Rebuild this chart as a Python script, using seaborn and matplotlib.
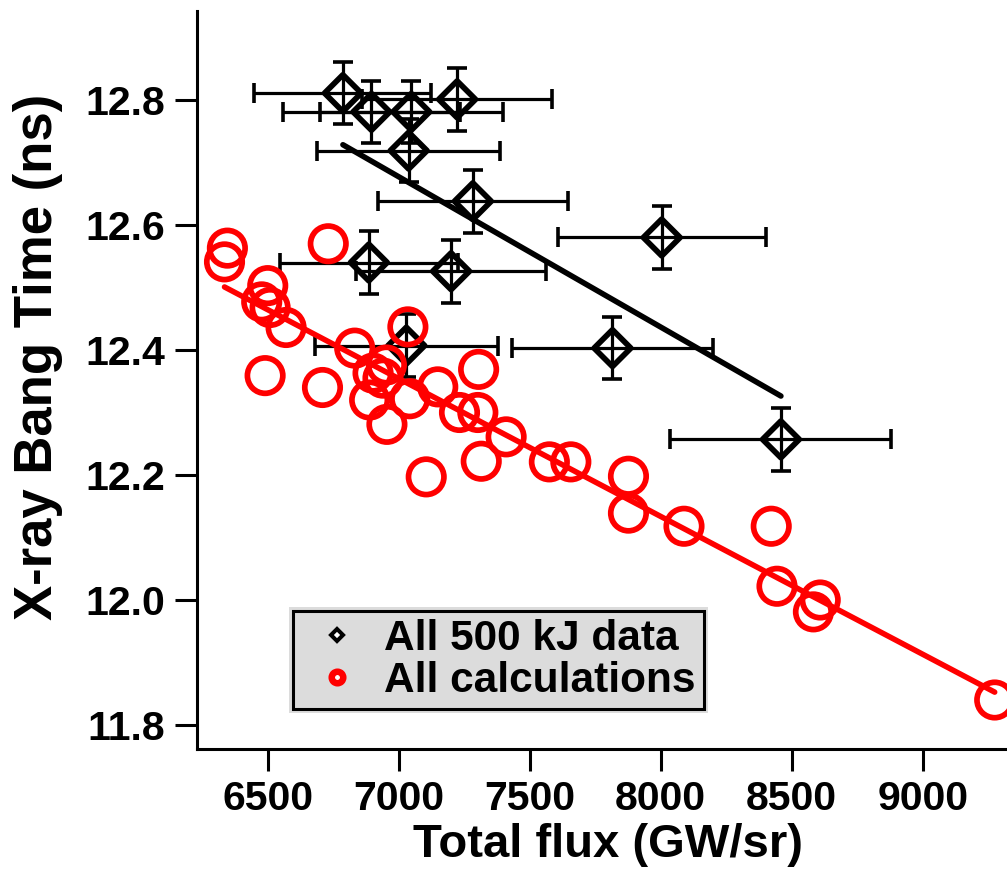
import numpy as np
import pandas as pd
import matplotlib
matplotlib.use("Agg")
import matplotlib.pyplot as plt
import matplotlib.transforms as mtransforms
from matplotlib.lines import Line2D
from matplotlib.patches import Rectangle
import seaborn as sns

# 500 kJ shots: measured total flux, x-ray bang time and their uncertainties
exp_flux = [6787, 6896, 7048, 7223, 7038, 7283, 6886, 7200, 7029, 7816, 8004, 8459]
exp_flux_err = [338, 337, 350, 363, 350, 363, 340, 363, 350, 385, 397, 422]
exp_bang = [12.811, 12.781, 12.781, 12.801, 12.719, 12.638, 12.540, 12.526,
            12.407, 12.403, 12.580, 12.257]
exp_bang_err = [0.05] * 12

# simulated shots
calc_flux = [6346, 6335, 6731, 6500, 6477, 6509, 6570, 7035, 6832, 6490,
             6709, 6902, 6953, 6940, 6889, 6955, 7042, 7149, 7305, 7232,
             7302, 7410, 7315, 7105, 7575, 7657, 7877, 7877, 8089, 8422,
             8444, 8609, 8583, 9275]
calc_bang = [12.563, 12.541, 12.570, 12.503, 12.477, 12.468, 12.436, 12.437,
             12.403, 12.359, 12.340, 12.363, 12.376, 12.355, 12.320, 12.281,
             12.322, 12.341, 12.369, 12.300, 12.300, 12.261, 12.222, 12.197,
             12.221, 12.221, 12.198, 12.139, 12.118, 12.118, 12.022, 12.000,
             11.981, 11.840]

legend_labels = ["All 500 kJ data", "All calculations"]
x_ticks = [6500, 7000, 7500, 8000, 8500, 9000]
y_ticks = [11.8, 12.0, 12.2, 12.4, 12.6, 12.8]
x_label = "Total flux (GW/sr)"
y_label = "X-ray Bang Time (ns)"

exp = pd.DataFrame({"flux": exp_flux, "bang": exp_bang})
calc = pd.DataFrame({"flux": calc_flux, "bang": calc_bang})

sns.set_theme(style="ticks")
plt.rcParams["font.family"] = ["Liberation Sans", "DejaVu Sans"]
plt.rcParams["font.weight"] = "bold"
plt.rcParams["text.color"] = "black"

W, H = 1007, 873
fig = plt.figure(figsize=(W / 100, H / 100), dpi=100)
fig.patch.set_facecolor("white")
ax = fig.add_axes([197 / W, (H - 749) / H, (W - 197) / W, (749 - 11) / H])
ax.set_facecolor("white")

RED = "#ff0000"
LW = 4.1

# measurements with error bars and hollow diamonds
ax.errorbar(exp_flux, exp_bang, xerr=exp_flux_err, yerr=exp_bang_err,
            fmt="none", ecolor="black", elinewidth=2.3, capsize=7.2,
            capthick=2.6, zorder=2)
sns.scatterplot(data=exp, x="flux", y="bang", marker="D", s=350,
                facecolors="none", edgecolor="black", linewidth=LW,
                legend=False, ax=ax, zorder=3)
sns.regplot(data=exp, x="flux", y="bang", scatter=False, ci=None,
            color="black",
            line_kws=dict(lw=4.0, solid_capstyle="round", zorder=3), ax=ax)

# calculations with hollow circles and linear fit
sns.scatterplot(data=calc, x="flux", y="bang", marker="o", s=650,
                facecolors="none", edgecolor=RED, linewidth=LW,
                legend=False, ax=ax, zorder=4)
sns.regplot(data=calc, x="flux", y="bang", scatter=False, ci=None,
            color=RED,
            line_kws=dict(lw=4.0, solid_capstyle="round", zorder=4), ax=ax)

ax.set_xlim(6230, 9322)
ax.set_ylim(11.7616, 12.9424)
ax.set_xticks(x_ticks)
ax.set_xticklabels([str(t) for t in x_ticks])
ax.set_yticks(y_ticks)
ax.set_yticklabels([f"{t:.1f}" for t in y_ticks])
ax.tick_params(direction="out", length=16, width=2.2, labelsize=29.5,
               color="black", labelcolor="black")
ax.tick_params(axis="x", pad=6)
ax.tick_params(axis="y", pad=7.2)
for lab in ax.get_xticklabels() + ax.get_yticklabels():
    lab.set_fontweight("bold")

sns.despine(ax=ax)
for side in ("left", "bottom"):
    ax.spines[side].set_linewidth(2.2)
    ax.spines[side].set_color("black")

ax.set_xlabel(x_label, fontsize=34, fontweight="bold", color="black")
ax.xaxis.set_label_coords(0.5068, -0.1003)
ax.set_ylabel(y_label, fontsize=38, fontweight="bold", color="black")
ax.yaxis.set_label_coords(-0.1654, 0.531)

handles = [
    Line2D([], [], ls="none", marker="D", ms=6, mec="black", mfc="white",
           mew=2.9),
    Line2D([], [], ls="none", marker="o", ms=8.3, mec=RED, mfc="white",
           mew=4.7),
]
leg = ax.legend(handles, legend_labels, loc="lower left",
                bbox_to_anchor=(0.1185, 0.0542), borderaxespad=0,
                frameon=True, fancybox=False, facecolor="#dcdcdc",
                edgecolor="black", framealpha=1, labelcolor="black",
                prop=dict(size=30.5, weight="bold"), handlelength=1.7,
                handletextpad=0.26, borderpad=0.2, labelspacing=0.03,
                numpoints=1)
leg.get_frame().set_linewidth(2.2)
leg.set_zorder(6)

# light grey margin around the legend frame
fig.canvas.draw()
bb = leg.get_frame().get_window_extent()
pad = 3.5
halo = Rectangle((bb.x0 - pad, bb.y0 - pad), bb.width + 2 * pad,
                 bb.height + 2 * pad, transform=mtransforms.IdentityTransform(),
                 facecolor="#dcdcdc", edgecolor="none", zorder=5.5,
                 clip_on=False)
ax.add_artist(halo)

fig.savefig("out.png", dpi=100)
